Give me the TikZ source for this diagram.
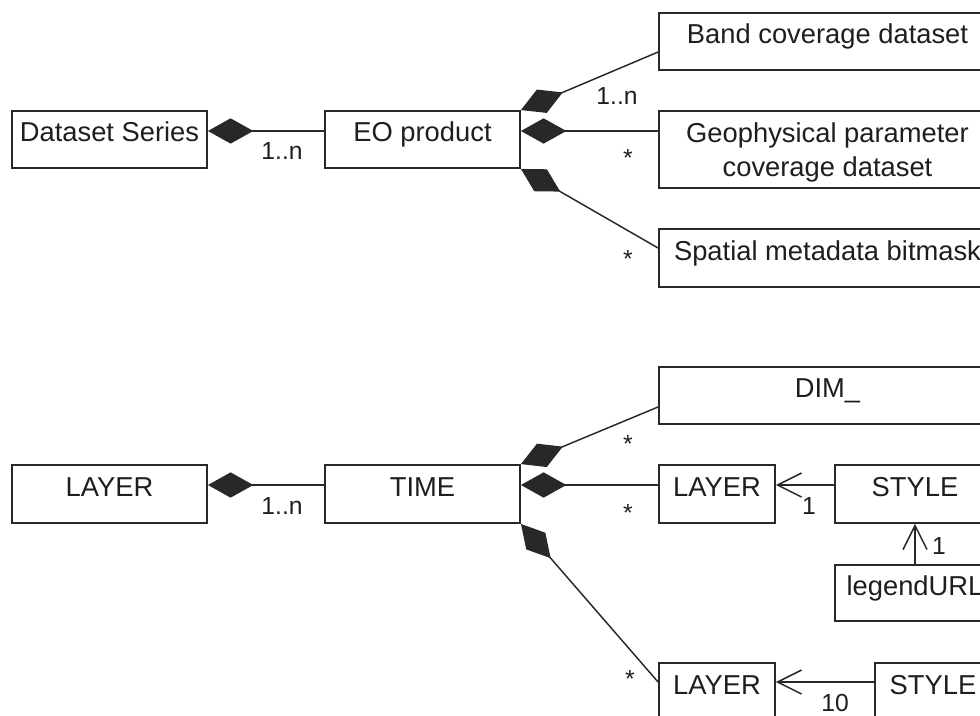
\documentclass[tikz,border=0pt]{standalone}
\usepackage{fontspec}
\setmainfont{Liberation Sans}
\usetikzlibrary{arrows.meta, positioning, calc}

\definecolor{umlline}{RGB}{40, 40, 40}
\definecolor{umltext}{RGB}{30, 30, 30}

\tikzset{
  classbase/.style={draw=umlline, line width=1.4pt, inner sep=0pt, align=center,
    text=umltext, font=\fontsize{20.5}{25.5}\selectfont},
  classbox/.style={classbase, text height=0.75em, text depth=0.45em},
  compose/.style={draw=umlline, line width=1.1pt, {Diamond[length=34pt, width=19pt]}-},
  navig/.style={draw=umlline, line width=1.1pt, -{Straight Barb[length=18pt, width=18pt, line width=1.1pt]}},
  mult/.style={anchor=base, inner sep=0pt, text=umltext, font=\fontsize{18.5}{22}\selectfont}
}

\begin{document}
\begin{tikzpicture}[x=0.75pt, y=-0.75pt]
  \useasboundingbox (0,0) rectangle (980,715);
  \clip (0,0) rectangle (980,715);

  % EO product part
  \node[classbox, minimum width=146.25pt, minimum height=42.75pt] (series) at (109.5, 139.5) {Dataset Series};
  \node[classbox, minimum width=146.25pt, minimum height=42.75pt] (eo) at (422.5, 139.5) {EO product};
  \node[classbox, minimum width=252.75pt, minimum height=42.75pt] (band) at (827.5, 41.5) {Band coverage dataset};
  \node[classbase, minimum width=252.75pt, minimum height=57.75pt, text height=40pt, text depth=0pt] (geo) at (827.5, 149.5) {Geophysical parameter\\coverage dataset};
  \node[classbox, minimum width=252.75pt, minimum height=43.5pt] (spatial) at (827.5, 258) {Spatial metadata bitmask};

  \coordinate (seriesport) at ([yshift=6.4pt]series.east);
  \coordinate (eoport) at ([yshift=6.4pt]eo.east);
  \draw[compose] (seriesport) -- (seriesport -| eo.west);
  \draw[compose] (eo.north east) -- ([yshift=-7.9pt]band.west);
  \draw[compose] (eoport) -- (eoport -| geo.west);
  \draw[compose] (eo.south east) -- ([yshift=7.5pt]spatial.west);

  \node[mult] (m1) at (282, 159) {1..n};
  \node[mult] (m2) at (617, 104) {1..n};
  \node[mult] (m3) at (628, 166) {*};
  \node[mult] (m4) at (628, 267) {*};

  % WMS layer part
  \node[classbox, minimum width=146.25pt, minimum height=43.5pt] (layerA) at (109.5, 494) {LAYER};
  \node[classbox, minimum width=146.25pt, minimum height=43.5pt] (time) at (422.5, 494) {TIME};
  \node[classbox, minimum width=252.75pt, minimum height=42.75pt] (dim) at (827.5, 395.5) {DIM\_};
  \node[classbox, minimum width=87pt, minimum height=43.5pt] (layerB) at (717, 494) {LAYER};
  \node[classbox, minimum width=120pt, minimum height=43.5pt] (styleA) at (915, 494) {STYLE};
  \node[classbox, minimum width=120pt, minimum height=42pt] (legend) at (915, 593) {legendURL};
  \node[classbox, minimum width=87pt, minimum height=43.5pt] (layerC) at (717, 692) {LAYER};
  \node[classbox, minimum width=87pt, minimum height=43.5pt] (styleB) at (933, 692) {STYLE};

  \coordinate (layerport) at ([yshift=6.75pt]layerA.east);
  \coordinate (timeport) at ([yshift=6.75pt]time.east);
  \draw[compose] (layerport) -- (layerport -| time.west);
  \draw[compose] (time.north east) -- ([yshift=-8.6pt]dim.west);
  \draw[compose] (timeport) -- (timeport -| layerB.west);
  \draw[compose] (time.south east) -- ([yshift=7.5pt]layerC.west);

  \draw[navig] ([yshift=6.75pt]styleA.west) -- ([yshift=6.75pt]layerB.east);
  \draw[navig] (legend.north) -- (styleA.south);
  \draw[navig] ([yshift=7.5pt]styleB.west) -- ([yshift=7.5pt]layerC.east);

  \node[mult] (m5) at (282, 514) {1..n};
  \node[mult] (m6) at (628, 452) {*};
  \node[mult] (m7) at (628, 521) {*};
  \node[mult] (m8) at (630, 687) {*};
  \node[mult] (m9) at (809, 514) {1};
  \node[mult] (m10) at (939, 554) {1};
  \node[mult] (m11) at (835, 711) {10};
\end{tikzpicture}
\end{document}
